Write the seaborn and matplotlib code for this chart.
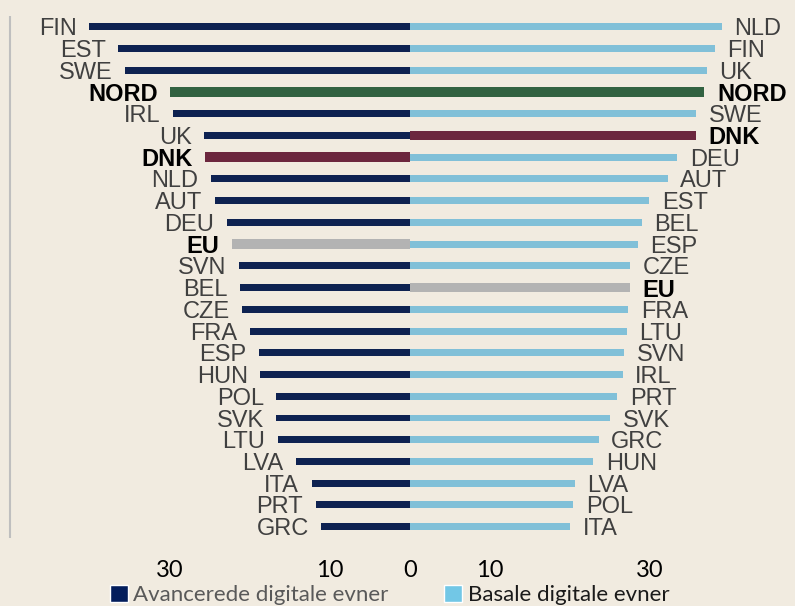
"""
Digitale evner: avancerede (venstre) vs. basale (hoejre), butterfly-diagram.
"""

import numpy as np
import pandas as pd
import matplotlib.pyplot as plt
import seaborn as sns
from matplotlib.patches import Patch

# Venstre side: avancerede digitale evner
left_countries = ["FIN", "EST", "SWE", "NORD", "IRL", "UK", "DNK", "NLD", "AUT", "DEU",
                  "EU", "SVN", "BEL", "CZE", "FRA", "ESP", "HUN", "POL", "SVK", "LTU",
                  "LVA", "ITA", "PRT", "GRC"]
left_values = [40.1, 36.5, 35.6, 30.0, 29.6, 25.7, 25.6, 24.9, 24.4, 22.9,
               22.3, 21.4, 21.2, 21.0, 20.0, 18.9, 18.7, 16.7, 16.7, 16.5,
               14.3, 12.3, 11.8, 11.1]

# Hoejre side: basale digitale evner
right_countries = ["NLD", "FIN", "UK", "NORD", "SWE", "DNK", "DEU", "AUT", "EST", "BEL",
                   "ESP", "CZE", "EU", "FRA", "LTU", "SVN", "IRL", "PRT", "SVK", "GRC",
                   "HUN", "LVA", "POL", "ITA"]
right_values = [39.0, 38.1, 37.1, 36.8, 35.8, 35.7, 33.4, 32.2, 29.9, 29.0,
                28.5, 27.5, 27.5, 27.3, 27.1, 26.8, 26.6, 25.9, 25.0, 23.6,
                22.9, 20.6, 20.4, 20.0]

tick_pos = [-30, -10, 0, 10, 30]
tick_labels = ["30", "10", "0", "10", "30"]
grid_pos = [-50, -30, -10, 10, 30]

NAVY = "#031d5c"
LIGHT = "#72c7e6"
highlight = {"NORD": "#2a6a3e", "DNK": "#771c3a", "EU": "#b3b3b3"}
BG = "#f1ebe0"


def side_frame(countries, values, sign, base_color):
    df = pd.DataFrame({
        "row": np.arange(len(countries)),
        "value": [sign * v for v in values],
        "group": [c if c in highlight else "other" for c in countries],
    })
    palette = {"other": base_color, **highlight}
    return df, palette


sns.set_theme(style="white")
plt.rcParams["font.family"] = ["Liberation Sans", "DejaVu Sans"]

fig = plt.figure(figsize=(7.95, 6.06), dpi=100)
fig.patch.set_facecolor(BG)
ax = fig.add_axes([0, 0.1129, 1, 0.861])
ax.set_facecolor(BG)

for countries, values, sign, color in [
    (left_countries, left_values, -1, NAVY),
    (right_countries, right_values, 1, LIGHT),
]:
    df, palette = side_frame(countries, values, sign, color)
    sns.barplot(data=df, x="value", y="row", hue="group", palette=palette,
                orient="h", dodge=False, width=0.32, linewidth=0,
                legend=False, ax=ax, zorder=3)

# thicker bars for NORD / DNK / EU
for bar in ax.patches:
    yc = bar.get_y() + bar.get_height() / 2
    r = int(round(yc))
    name = left_countries[r] if bar.get_width() < 0 else right_countries[r]
    if name in highlight:
        bar.set_height(0.43)
        bar.set_y(yc - 0.215)

# country labels
for countries, values, sign in [(left_countries, left_values, -1),
                                (right_countries, right_values, 1)]:
    for i, (c, v) in enumerate(zip(countries, values)):
        bold = c in highlight
        ax.annotate(c, (sign * v, i), xytext=(sign * 9, 0), textcoords="offset points",
                    ha="right" if sign < 0 else "left", va="center_baseline",
                    fontsize=17, fontweight="bold" if bold else "normal",
                    color="black" if bold else "#404040")

ax.set_xticks(tick_pos)
ax.set_xticklabels(tick_labels, fontsize=17, family="Lato", color="black")
ax.set_xticks(grid_pos, minor=True)
ax.tick_params(axis="x", which="both", length=0, pad=16)
ax.set_yticks([])
ax.set_xlabel("")
ax.set_ylabel("")
ax.grid(False)
ax.grid(True, which="minor", axis="x", color="#bfbfbf", linewidth=1.5, zorder=0)
for s in ax.spines.values():
    s.set_visible(False)
ax.set_xlim(-51.25, 48.125)
ax.set_ylim(23.5, -0.5)

handles = [Patch(facecolor=NAVY, label="Avancerede digitale evner"),
           Patch(facecolor=LIGHT, label="Basale digitale evner")]
leg = fig.legend(handles=handles, loc="center", bbox_to_anchor=(0.49, 0.018),
                 ncol=2, frameon=False, handlelength=0.8, handleheight=0.8,
                 handletextpad=0.25, columnspacing=2.5,
                 prop={"family": "Lato", "size": 16})
leg.get_texts()[0].set_color("#595959")
leg.get_texts()[1].set_color("#1a1a1a")

fig.savefig("out.png", dpi=100, facecolor=BG)
